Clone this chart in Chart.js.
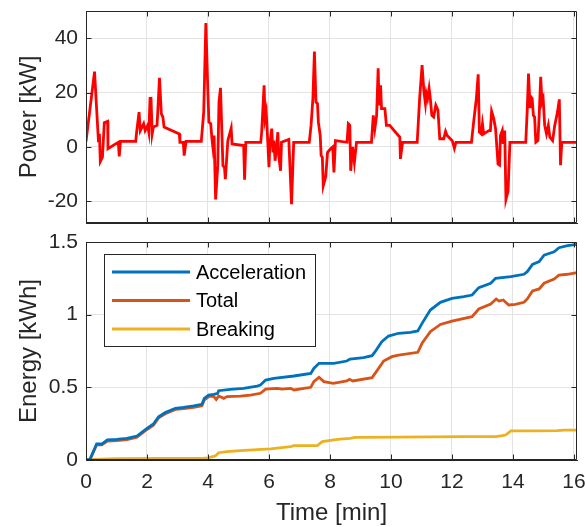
<!DOCTYPE html>
<html>
<head>
<meta charset="utf-8">
<script src="https://cdn.jsdelivr.net/npm/chart.js@4.4.1/dist/chart.umd.min.js"></script>
<style>
    html, body { margin: 0; padding: 0; background: #fff; }
    #wrap { position: relative; width: 585px; height: 527px; }
    #topBox { position: absolute; left: 0; top: 0; width: 585px; height: 232px; }
    #botBox { position: absolute; left: 0; top: 232px; width: 585px; height: 295px; }
</style>
</head>
<body>
<div id="wrap">
    <div id="topBox"><canvas id="powerChart"></canvas></div>
    <div id="botBox"><canvas id="energyChart"></canvas></div>
</div>
<script>
// Time axis (min)
const xTicks = [0, 2, 4, 6, 8, 10, 12, 14, 16];
const xMax = 16.1;

// Power trace (kW)
const powerTime = [0, 0.28, 0.41, 0.44, 0.47, 0.54, 0.6, 0.71, 0.72, 0.97, 1.06, 1.09, 1.13, 1.63, 1.66, 1.74, 1.78, 1.89, 1.94, 2.02,
    2.06, 2.1, 2.13, 2.17, 2.21, 2.33, 2.41, 2.47, 2.52, 2.56, 3.06, 3.08, 3.19, 3.22, 3.28, 3.78, 3.86, 3.93, 4.0, 4.03,
    4.09, 4.13, 4.16, 4.2, 4.25, 4.32, 4.36, 4.41, 4.49, 4.54, 4.57, 4.65, 4.76, 4.79, 5.17, 5.2, 5.24, 5.73, 5.76, 5.84,
    5.87, 5.91, 5.95, 6.0, 6.03, 6.09, 6.13, 6.16, 6.2, 6.25, 6.29, 6.32, 6.38, 6.41, 6.65, 6.74, 6.81, 7.32, 7.38, 7.44,
    7.49, 7.54, 7.59, 7.62, 7.68, 7.71, 7.75, 7.78, 7.86, 7.92, 8.02, 8.09, 8.13, 8.18, 8.56, 8.6, 8.65, 8.68, 8.74, 8.8,
    8.87, 9.36, 9.42, 9.47, 9.53, 9.58, 9.61, 9.66, 9.69, 9.8, 9.85, 9.96, 10.24, 10.29, 10.31, 10.38, 10.86, 10.94, 11.02, 11.08,
    11.13, 11.16, 11.2, 11.25, 11.29, 11.34, 11.4, 11.47, 11.54, 11.6, 11.73, 11.79, 11.84, 12.01, 12.08, 12.13, 12.64, 12.71, 12.8, 12.86,
    12.9, 12.96, 13.0, 13.04, 13.21, 13.26, 13.3, 13.37, 13.43, 13.51, 13.56, 13.59, 13.65, 13.68, 13.73, 13.77, 13.84, 13.9, 14.42, 14.47,
    14.51, 14.56, 14.59, 14.63, 14.67, 14.71, 14.75, 14.82, 14.86, 14.91, 14.95, 14.99, 15.04, 15.1, 15.16, 15.21, 15.3, 15.37, 15.46, 15.52,
    15.56, 15.6, 16.1];
const powerValues = [2, 27.7, 1.7, 4.8, -5.4, -3.8, 8.9, 9.4, -0.7, 1.1, 1.7, -3.5, 2, 2, 5.4, 12.8, 6, 8.5, 6, 7.9,
    5.4, 17.8, 18.4, 4.8, 7.3, 7.9, 25.4, 12.2, 11, 7.3, 4.8, 1.7, 1.7, -3.2, 2, 2, 12.8, 45.6, 19, 9.1,
    8.5, 3, 0, 4.2, -19.3, -6.9, 16.5, 21.7, -6.9, -7.5, -11.9, 2.3, 6.9, 1.1, 0.5, -12.1, 1.7, 1.7, 5.4, 22.7,
    10.4, 12.8, 4.2, -7.5, 1.1, 6.7, -2, 2.3, -5.1, 0, 5.4, -3.2, -8.8, 1.7, 2.7, -21.1, 1.7, 1.7, 7.9, 17.8,
    35.1, 16.5, 15.9, 9.1, 4.2, -3.2, -3.8, -14.3, -11, -2, -0.7, 0, -9.4, 2.3, 1.7, 8.5, 7.9, -8.8, 0, -5.7,
    1.7, 1.7, 11.6, 6.7, 11.6, 28.9, 15.3, 22.7, 14.1, 14.1, 7.9, 7.9, 4.2, 3.6, -4.4, 1.7, 1.7, 17.8, 30.1, 20.3,
    15.9, 19.6, 17.8, 21.5, 17.8, 11.6, 11, 15.3, 13.5, 3, 3, 5.7, 4.2, 2.3, -0.5, 1.7, 1.7, 9.1, 17.8, 26.7,
    5.4, 4.8, 8.5, 4.8, 6, 6, 13.1, 10.4, 6.7, -6.3, -6.7, 4.2, 6, 1.1, 6, -19.3, -16.2, 1.7, 1.7, 14.1,
    27, 14.7, 18.4, 17.8, 11.6, 11, 1.7, 2.3, 11.6, 25.8, 16.5, 17.8, 7.9, 4.8, 7.9, 3.6, 2.3, 7.9, 12.8, 17.5,
    -6.7, 1.7, 1.7];
const powerTicks = [-20, 0, 20, 40];

// Energy traces (kWh)
const accTime = [0, 0.13, 0.35, 0.52, 0.7, 1.0, 1.34, 1.67, 2.0, 2.21, 2.38, 2.6, 2.93, 3.2, 3.53, 3.8, 3.88, 4.02, 4.19, 4.32,
    4.35, 4.73, 5.17, 5.61, 5.72, 5.89, 6.16, 6.82, 7.37, 7.47, 7.64, 8.13, 8.55, 8.66, 9.1, 9.38, 9.48, 9.7, 9.92, 10.25,
    10.64, 10.88, 11.02, 11.29, 11.62, 12.0, 12.39, 12.66, 12.88, 13.27, 13.43, 13.93, 14.36, 14.47, 14.64, 14.86, 15.02, 15.35, 15.51, 15.79,
    16.1];
const accValues = [0, 0.005, 0.11, 0.11, 0.138, 0.142, 0.149, 0.165, 0.218, 0.248, 0.298, 0.326, 0.356, 0.362, 0.372, 0.383, 0.424, 0.447, 0.452, 0.459,
    0.477, 0.486, 0.493, 0.509, 0.516, 0.55, 0.562, 0.578, 0.596, 0.63, 0.665, 0.665, 0.681, 0.695, 0.704, 0.718, 0.745, 0.814, 0.853, 0.872,
    0.878, 0.888, 0.94, 1.032, 1.085, 1.112, 1.124, 1.135, 1.186, 1.216, 1.25, 1.261, 1.278, 1.296, 1.346, 1.365, 1.41, 1.433, 1.461, 1.475,
    1.484];

const totTime = [0, 0.13, 0.35, 0.52, 0.7, 1.0, 1.34, 1.67, 2.0, 2.21, 2.38, 2.6, 2.93, 3.2, 3.53, 3.8, 3.88, 4.05, 4.19, 4.27,
    4.35, 4.52, 4.62, 5.06, 5.39, 5.72, 5.89, 6.27, 6.43, 6.71, 6.82, 7.37, 7.47, 7.64, 7.8, 8.11, 8.55, 8.64, 8.75, 9.38,
    9.48, 9.76, 10.03, 10.25, 10.88, 11.02, 11.29, 11.62, 12.0, 12.66, 12.88, 13.27, 13.45, 13.54, 13.68, 13.86, 14.08, 14.36, 14.47, 14.64,
    14.86, 15.02, 15.35, 15.51, 15.79, 16.1];
const totValues = [0, 0.003, 0.105, 0.105, 0.13, 0.134, 0.14, 0.156, 0.21, 0.24, 0.29, 0.318, 0.348, 0.354, 0.363, 0.373, 0.413, 0.44, 0.436, 0.417,
    0.44, 0.424, 0.436, 0.44, 0.447, 0.459, 0.488, 0.493, 0.488, 0.493, 0.482, 0.5, 0.539, 0.569, 0.539, 0.528, 0.544, 0.555, 0.544, 0.567,
    0.596, 0.681, 0.711, 0.722, 0.741, 0.803, 0.883, 0.933, 0.956, 0.986, 1.039, 1.073, 1.108, 1.094, 1.101, 1.067, 1.071, 1.085, 1.108, 1.163,
    1.177, 1.216, 1.245, 1.273, 1.278, 1.289];

const brkTime = [0, 0.24, 1.0, 3.86, 4.0, 4.24, 4.35, 4.62, 5.06, 5.61, 6.05, 6.71, 6.82, 7.58, 7.75, 8.13, 8.33, 8.66, 8.83, 10.2,
    12.4, 13.43, 13.65, 13.76, 13.93, 14.58, 15.46, 15.68, 16.1];
const brkValues = [0, 0.005, 0.009, 0.012, 0.015, 0.028, 0.05, 0.057, 0.064, 0.071, 0.076, 0.092, 0.099, 0.099, 0.126, 0.138, 0.144, 0.149, 0.156, 0.158,
    0.161, 0.161, 0.167, 0.172, 0.2, 0.2, 0.202, 0.206, 0.206];
const energyTicks = [0, 0.5, 1, 1.5];

const seriesLabels = ['Acceleration', 'Total', 'Breaking'];
const seriesColors = ['#0072BD', '#D95319', '#EDB120'];

const axisColor = '#262626';
const gridColor = '#e3e3e3';
const fontFamily = '"Liberation Sans", Arial, Helvetica, sans-serif';

function toPoints(xs, ys) {
    return xs.map((x, i) => ({ x: x, y: ys[i] }));
}

// MATLAB style box with inward tick marks
const boxPlugin = {
    id: 'matlabBox',
    afterDatasetsDraw(chart) {
        const ctx = chart.ctx;
        const a = chart.chartArea;
        const x = chart.scales.x, y = chart.scales.y;
        const l = Math.round(a.left) + 0.5, r = Math.round(a.right) - 0.5;
        const t = Math.round(a.top) + 0.5, b = Math.round(a.bottom) - 0.5;
        const len = 5;
        ctx.save();
        ctx.strokeStyle = axisColor;
        ctx.lineWidth = 1;
        ctx.beginPath();
        ctx.rect(l, t, r - l, b - t);
        x.ticks.forEach(tk => {
            const px = Math.round(x.getPixelForValue(tk.value)) + 0.5;
            ctx.moveTo(px, b); ctx.lineTo(px, b - len);
            ctx.moveTo(px, t); ctx.lineTo(px, t + len);
        });
        y.ticks.forEach(tk => {
            const py = Math.round(y.getPixelForValue(tk.value)) + 0.5;
            ctx.moveTo(l, py); ctx.lineTo(l + len, py);
            ctx.moveTo(r, py); ctx.lineTo(r - len, py);
        });
        ctx.stroke();
        ctx.restore();
    }
};

// Legend box in the upper left of the energy panel
const legendBox = {
    id: 'legendBox',
    afterDraw(chart) {
        const ctx = chart.ctx;
        const a = chart.chartArea;
        const x0 = Math.round(a.left) + 18, y0 = Math.round(a.top) + 12;
        const w = 211, h = 92;
        ctx.save();
        ctx.fillStyle = '#fff';
        ctx.fillRect(x0, y0, w, h);
        ctx.strokeStyle = axisColor;
        ctx.lineWidth = 1;
        ctx.strokeRect(x0 + 0.5, y0 + 0.5, w, h);
        ctx.font = '20px ' + fontFamily;
        ctx.textBaseline = 'middle';
        chart.data.datasets.forEach((ds, i) => {
            const yy = y0 + 18 + i * 28.5;
            ctx.strokeStyle = ds.borderColor;
            ctx.lineWidth = ds.borderWidth;
            ctx.beginPath();
            ctx.moveTo(x0 + 8, yy);
            ctx.lineTo(x0 + 86, yy);
            ctx.stroke();
            ctx.fillStyle = '#000';
            ctx.fillText(ds.label, x0 + 92, yy + 1);
        });
        ctx.restore();
    }
};

function xAxis(showLabels, height) {
    return {
        type: 'linear',
        min: 0,
        max: xMax,
        afterBuildTicks: s => { s.ticks = xTicks.map(v => ({ value: v })); },
        afterFit: s => { s.height = height; s.paddingLeft = 0; s.paddingRight = 0; },
        grid: { color: gridColor, drawTicks: false },
        border: { color: axisColor },
        ticks: {
            display: showLabels, padding: 10, color: axisColor, maxRotation: 0,
            font: { family: fontFamily, size: 21 },
            callback: v => String(v)
        },
        title: {
            display: showLabels,
            text: 'Time [min]',
            color: axisColor,
            font: { family: fontFamily, size: 24, lineHeight: 1.1 },
            padding: { top: 0, bottom: 0 }
        }
    };
}

function yAxis(min, max, tickValues, label) {
    return {
        type: 'linear',
        min: min,
        max: max,
        afterBuildTicks: s => { s.ticks = tickValues.map(v => ({ value: v })); },
        afterFit: s => { s.width = 86; s.paddingTop = 0; s.paddingBottom = 0; },
        grid: { color: gridColor, drawTicks: false },
        border: { color: axisColor },
        ticks: {
            padding: 8, color: axisColor,
            font: { family: fontFamily, size: 21 },
            callback: v => String(v)
        },
        title: {
            display: true,
            text: label,
            color: axisColor,
            font: { family: fontFamily, size: 24 },
            padding: { top: 15, bottom: 0 }
        }
    };
}

Chart.defaults.font.family = fontFamily;

new Chart(document.getElementById('powerChart'), {
    type: 'line',
    data: {
        datasets: [{
            label: 'Power',
            data: toPoints(powerTime, powerValues),
            borderColor: '#FF0000',
            borderWidth: 2.8,
            pointRadius: 0,
            tension: 0
        }]
    },
    options: {
        responsive: true,
        maintainAspectRatio: false,
        animation: false,
        devicePixelRatio: 1,
        layout: { padding: { top: 11, right: 8, bottom: 9, left: 0 } },
        plugins: { legend: { display: false }, tooltip: { enabled: false } },
        scales: {
            x: xAxis(false, 0),
            y: yAxis(-28, 50, powerTicks, 'Power [kW]')
        }
    },
    plugins: [boxPlugin]
});

const energySeries = [
    [accTime, accValues],
    [totTime, totValues],
    [brkTime, brkValues]
];

new Chart(document.getElementById('energyChart'), {
    type: 'line',
    data: {
        datasets: energySeries.map((s, i) => ({
            label: seriesLabels[i],
            data: toPoints(s[0], s[1]),
            borderColor: seriesColors[i],
            borderWidth: 2.8,
            pointRadius: 0,
            tension: 0
        }))
    },
    options: {
        responsive: true,
        maintainAspectRatio: false,
        animation: false,
        devicePixelRatio: 1,
        layout: { padding: { top: 10, right: 8, bottom: 0, left: 0 } },
        plugins: { legend: { display: false }, tooltip: { enabled: false } },
        scales: {
            x: xAxis(true, 67),
            y: yAxis(0, 1.5, energyTicks, 'Energy [kWh]')
        }
    },
    plugins: [boxPlugin, legendBox]
});
</script>
</body>
</html>
